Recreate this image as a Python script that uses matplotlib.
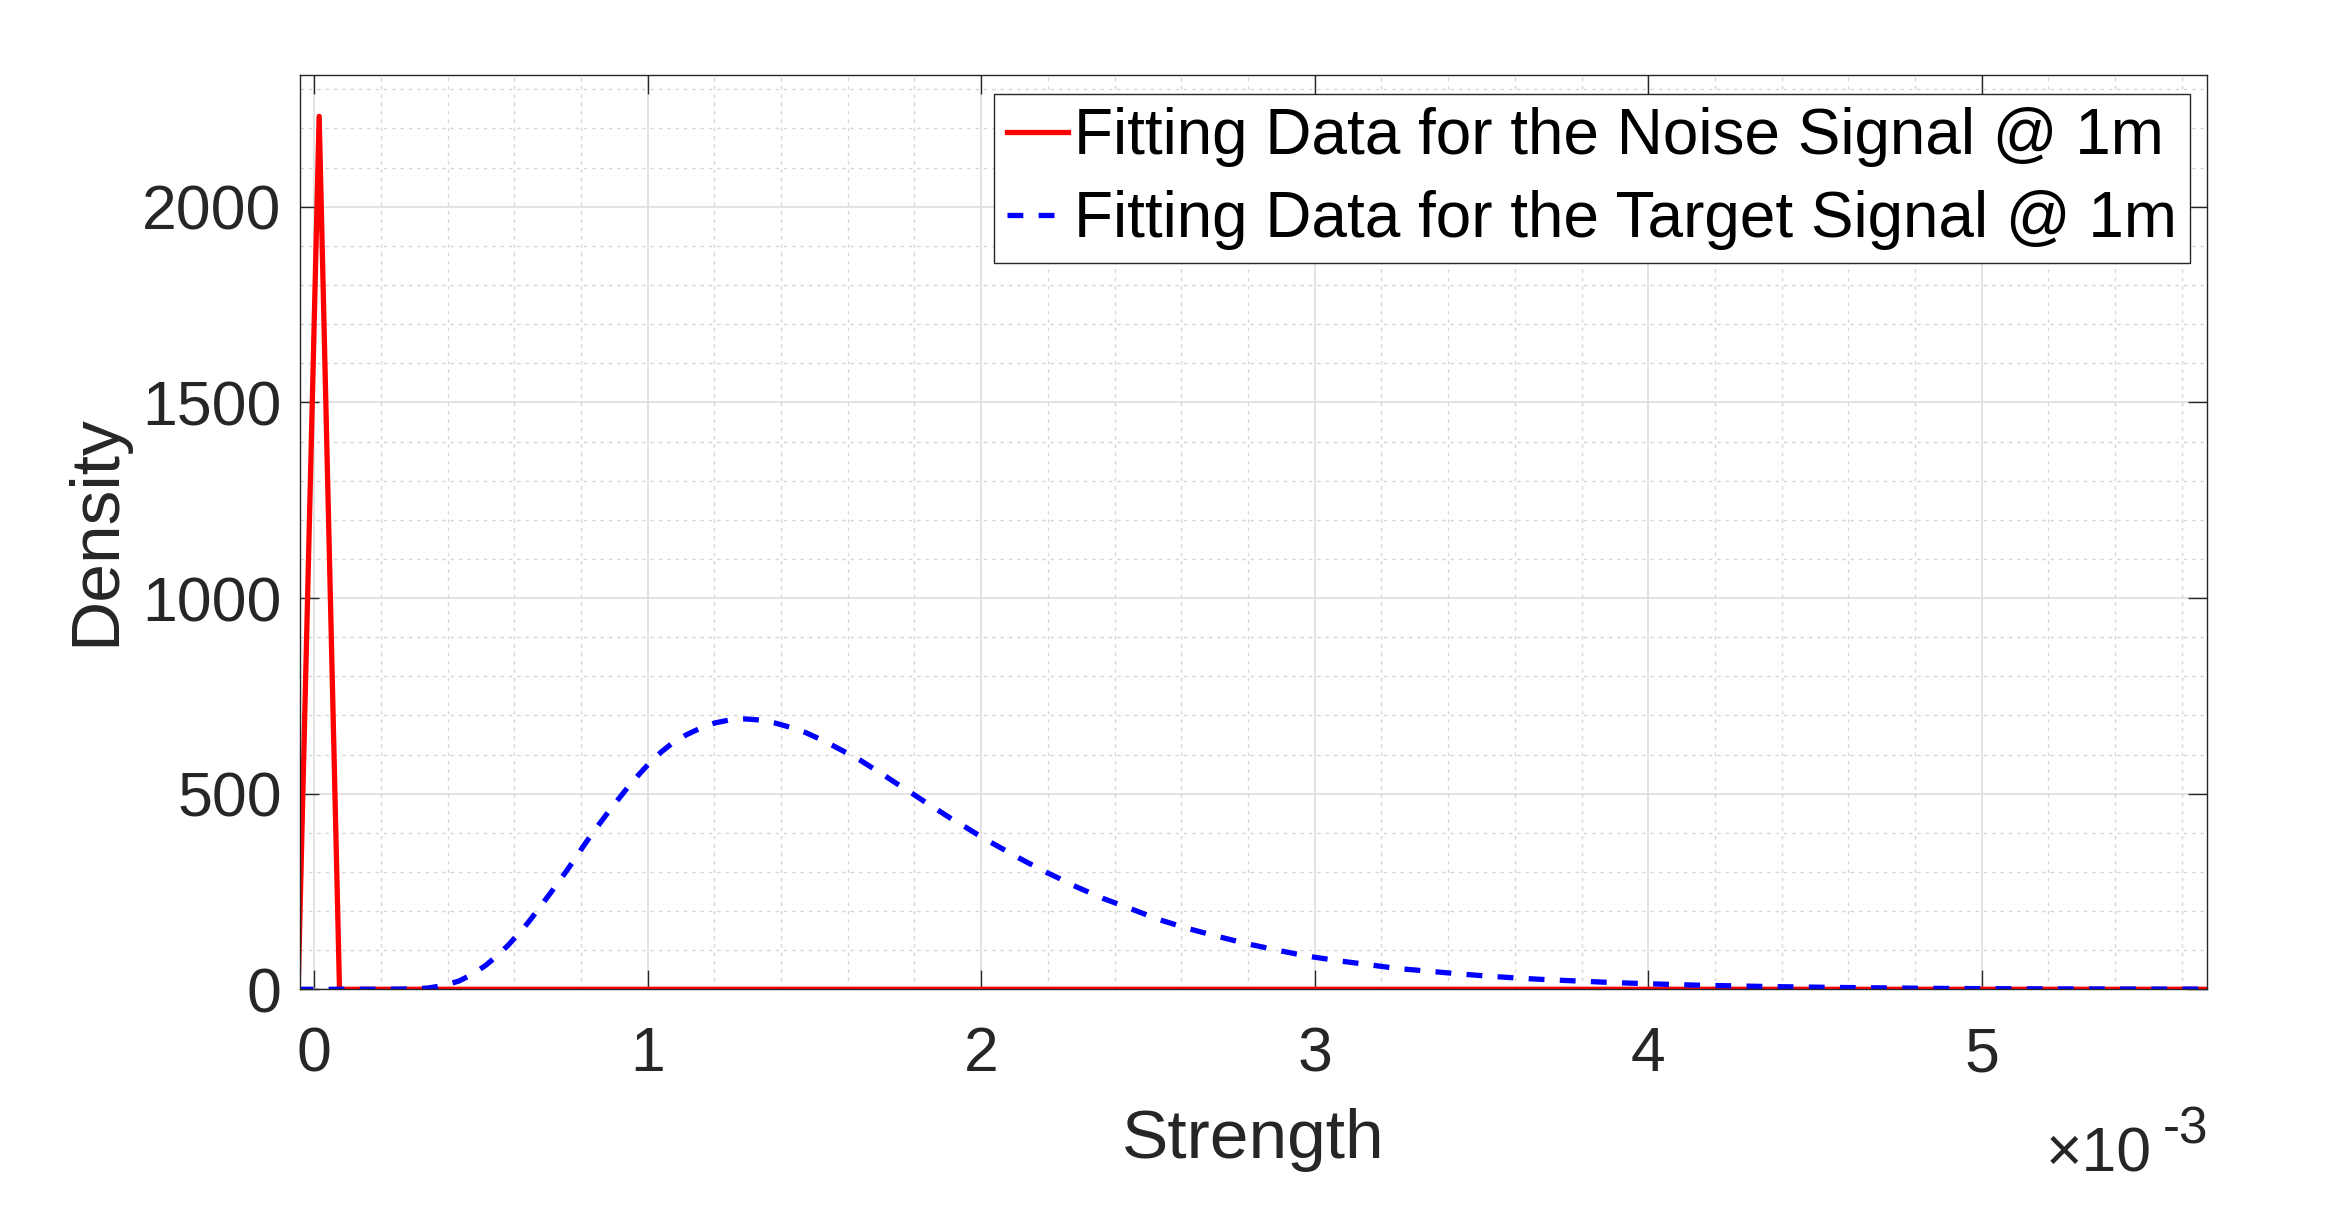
import numpy as np
import matplotlib.pyplot as plt
from matplotlib.ticker import MultipleLocator

plt.rcParams['font.family'] = ['Liberation Sans', 'DejaVu Sans']

# strength values are in units of 1e-3
noise_x = [-0.048, 0.015, 0.076, 5.70]
noise_y = [0, 2231, 0, 0]

target_x = [-0.05, 0.10, 0.20, 0.26, 0.30, 0.34, 0.39, 0.434, 0.474, 0.514,
            0.548, 0.581, 0.612, 0.642, 0.670, 0.698, 0.726, 0.753, 0.780, 0.805,
            0.832, 0.860, 0.888, 0.917, 0.945, 0.974, 1.005, 1.04, 1.075, 1.115,
            1.16, 1.203, 1.25, 1.293, 1.34, 1.384, 1.43, 1.474, 1.515, 1.555,
            1.597, 1.638, 1.677, 1.716, 1.755, 1.794, 1.833, 1.872, 1.91, 1.95,
            1.99, 2.03, 2.07, 2.11, 2.15, 2.19, 2.235, 2.277, 2.32, 2.366,
            2.445, 2.53, 2.617, 2.705, 2.794, 2.887, 2.976, 3.07, 3.16, 3.25,
            3.345, 3.437, 3.53, 3.62, 3.71, 3.805, 3.897, 3.99, 4.08, 4.17,
            4.27, 4.36, 4.45, 4.54, 4.64, 4.73, 4.82, 4.91, 5.0, 5.2, 5.4, 5.7]
target_y = [0, 0, 0, 0.5, 1.5, 3, 10, 21, 38, 61,
            85, 112, 141, 171, 202, 234, 266, 298, 331, 363,
            396, 428, 460, 491, 521, 549, 578, 606, 630, 650,
            668, 681, 689, 691, 688, 680, 669, 656, 640, 623,
            604, 585, 564, 543, 521, 500, 478, 457, 436, 416,
            395, 375, 356, 337, 319, 301, 283, 265, 249, 232,
            207, 179, 156, 136, 117, 100, 85, 73, 63, 53,
            46, 39, 33, 28, 24, 20.5, 17, 14.5, 12, 10,
            8.5, 7, 6, 5, 4, 3.4, 2.6, 2, 1.6, 1.0, 0.6, 0.3]

x_ticks = [0, 1, 2, 3, 4, 5]
y_ticks = [0, 500, 1000, 1500, 2000]

fig = plt.figure(figsize=(23.41, 12.28), dpi=100)
ax = fig.add_axes([0.128, 0.1944, 0.8147, 0.7443])

ax.plot(noise_x, noise_y, color='#ff0000', lw=3.8,
        label='Fitting Data for the Noise Signal @ 1m')
ax.plot(target_x, target_y, color='#0000ff', lw=3.8, ls=(0, (3.0, 2.9)),
        label='Fitting Data for the Target Signal @ 1m')

ax.set_xlim(-0.0435, 5.675)
ax.set_ylim(0, 2336)
ax.set_xticks(x_ticks)
ax.set_yticks(y_ticks)
ax.xaxis.set_minor_locator(MultipleLocator(0.2))
ax.yaxis.set_minor_locator(MultipleLocator(100))

ax.set_axisbelow(True)
ax.grid(which='major', color='#e0e0e0', lw=1.3, ls='-')
ax.grid(which='minor', color='#d6d6d6', lw=1.0, ls=(0, (2.5, 3.5)))

ax.tick_params(which='major', direction='in', length=14, width=1,
               top=True, right=True, labelsize=45, colors='#262626')
ax.tick_params(which='minor', length=0, top=True, right=True)
ax.tick_params(axis='x', which='major', pad=26)
ax.tick_params(axis='y', which='major', pad=13)
for s in ax.spines.values():
    s.set_color('#262626')
    s.set_linewidth(1)

ax.set_xlabel('Strength', fontsize=50, color='#262626')
ax.xaxis.set_label_coords(0.5, -0.130)
ax.set_ylabel('Density', fontsize=50, color='#262626')
ax.yaxis.set_label_coords(-0.090, 0.5026)

fig.text(2046 / 2341, 1 - 1172 / 1228, '\u00d710', fontsize=45,
         color='#262626', va='baseline', ha='left')
fig.text(2163 / 2341, 1 - 1143 / 1228, '-3', fontsize=37,
         color='#262626', va='baseline', ha='left')

leg = ax.legend(loc='upper right', bbox_to_anchor=(0.991, 0.979),
                fontsize=46, handlelength=0.95, handletextpad=0.1,
                borderpad=0.2, labelspacing=0.36, borderaxespad=0,
                fancybox=False, framealpha=1, edgecolor='#262626')
leg.get_frame().set_linewidth(1)

fig.savefig('out.png', dpi=100)
